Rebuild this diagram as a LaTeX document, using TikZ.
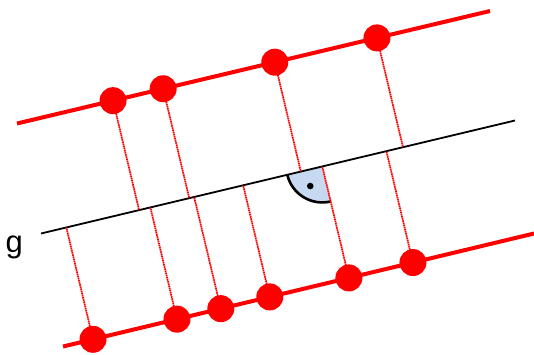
\documentclass[tikz,border=0pt]{standalone}
\usepackage{fontspec}
\setmainfont{Liberation Sans}
\usetikzlibrary{calc}
\definecolor{wedgeblue}{RGB}{198,217,241}
\begin{document}
\begin{tikzpicture}[x=1pt,y=1pt,
  redline/.style={red,line width=4pt},
  gline/.style={black,line width=1.8pt},
  proj/.style={red,line width=1.7pt,dash pattern=on 1.6pt off 0.6pt},
  pt/.style={circle,fill=red,inner sep=0pt,minimum size=27pt}]
\useasboundingbox (0,0) rectangle (534,354);
\coordinate (A1) at (17,230.5); \coordinate (A2) at (490,343);
\coordinate (G1) at (41,120.5); \coordinate (G2) at (515,233.5);
\coordinate (B1) at (63,7.5);   \coordinate (B2) at (534,120.5);
% points on top line
\coordinate (t1) at ($(A1)!0.203!(A2)$);
\coordinate (t2) at ($(A1)!0.309!(A2)$);
\coordinate (t3) at ($(A1)!0.545!(A2)$);
\coordinate (t4) at ($(A1)!0.761!(A2)$);
% points on bottom line
\coordinate (b1) at ($(B1)!0.0637!(B2)$);
\coordinate (b2) at ($(B1)!0.242!(B2)$);
\coordinate (b3) at ($(B1)!0.335!(B2)$);
\coordinate (b4) at ($(B1)!0.439!(B2)$);
\coordinate (b5) at ($(B1)!0.607!(B2)$);
\coordinate (b6) at ($(B1)!0.743!(B2)$);
% feet on g
\foreach \p in {t1,t2,t3,t4,b1,b2,b3,b4,b5,b6}
  \coordinate (f\p) at ($(G1)!(\p)!(G2)$);
% right angle mark
\fill[wedgeblue] (fb5) -- ++(193.41:36) arc[start angle=193.41,end angle=283.41,radius=36] -- cycle;
\draw[line width=2.6pt] ($(fb5)+(193.41:36)$) arc[start angle=193.41,end angle=283.41,radius=36];
\fill ($(fb5)+(238.41:23)$) circle (3.3);
% g line
\draw[gline] (G1) -- (G2);
% projections
\foreach \p in {t1,t2,t3,t4,b1,b2,b3,b4,b5,b6}
  \draw[proj] (\p) -- (f\p);
% red lines
\draw[redline] (A1) -- (A2);
\draw[redline] (B1) -- (B2);
% points
\foreach \p in {t1,t2,t3,t4,b1,b2,b3,b4,b5,b6}
  \node[pt] (n\p) at (\p) {};
\node[anchor=base west,inner sep=0pt,font=\fontsize{31}{31}\selectfont] (glabel) at (5.5,102) {g};
\end{tikzpicture}
\end{document}
